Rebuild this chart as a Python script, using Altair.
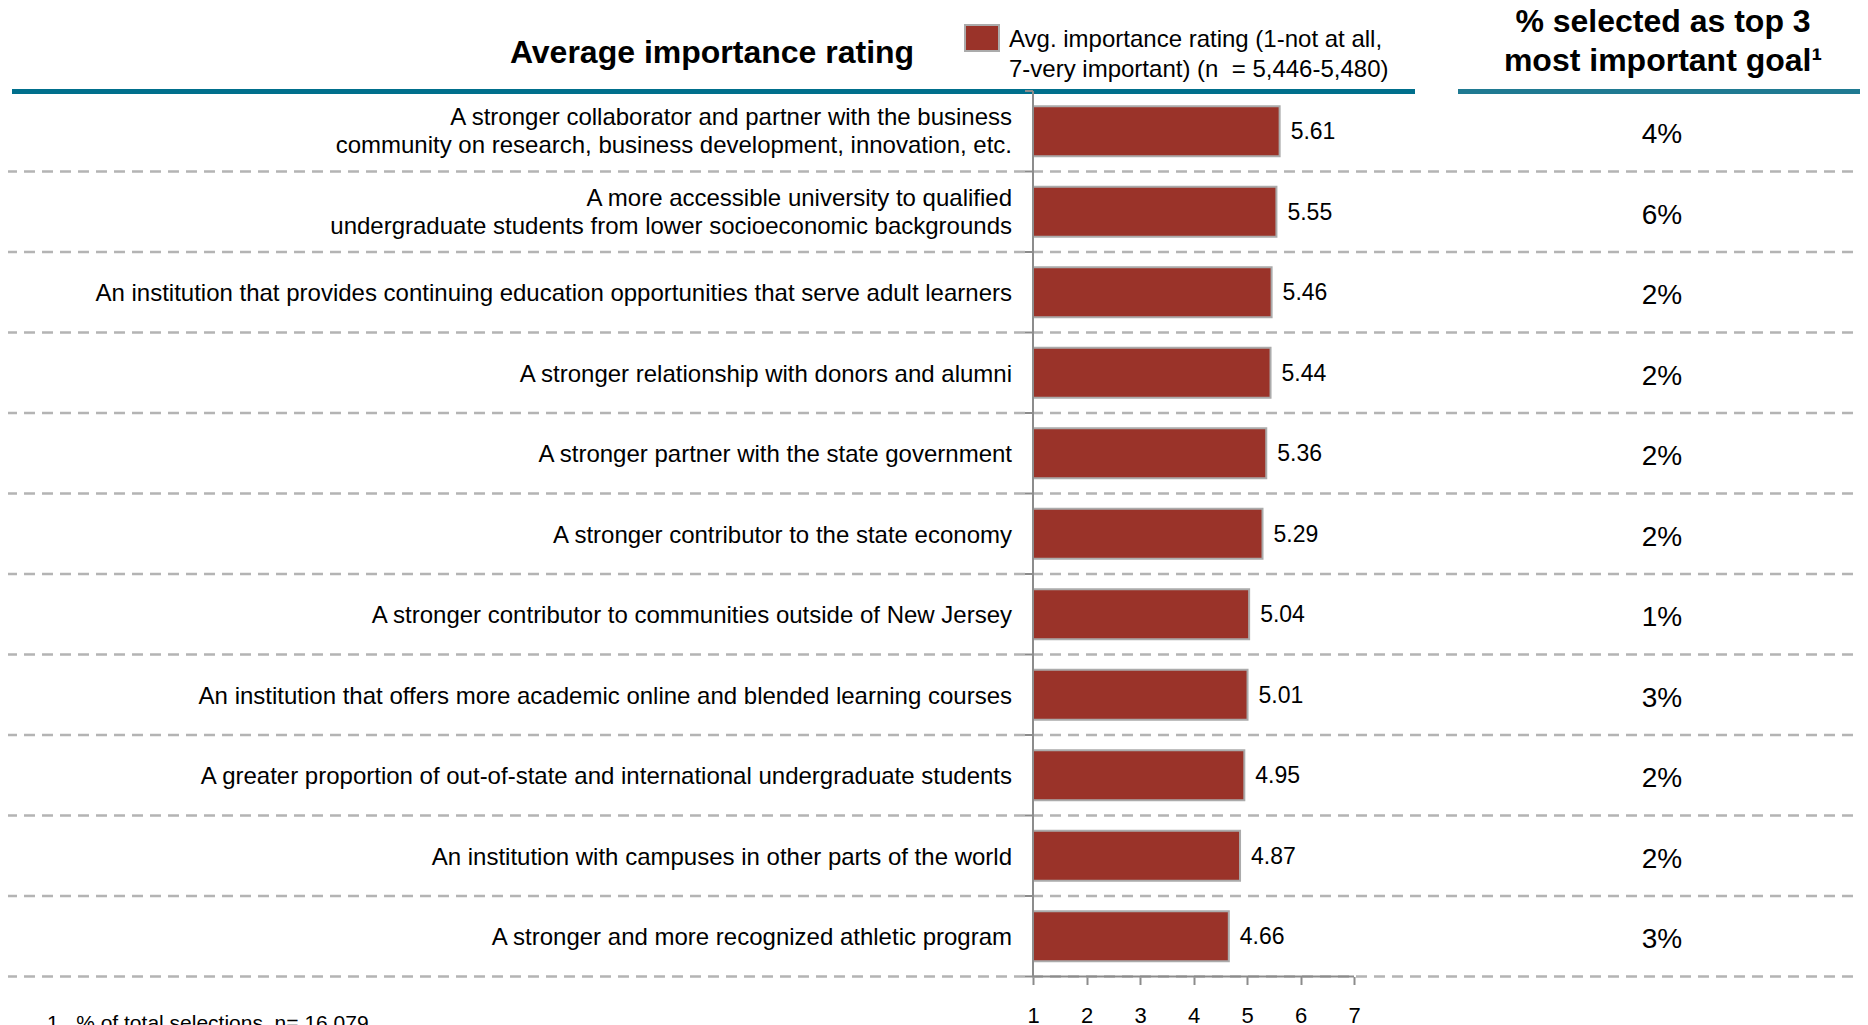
import altair as alt
import pandas as pd

# ---------------- data ----------------
labels = [
    "A stronger collaborator and partner with the business\ncommunity on research, business development, innovation, etc.",
    "A more accessible university to qualified\nundergraduate students from lower socioeconomic backgrounds",
    "An institution that provides continuing education opportunities that serve adult learners",
    "A stronger relationship with donors and alumni",
    "A stronger partner with the state government",
    "A stronger contributor to the state economy",
    "A stronger contributor to communities outside of New Jersey",
    "An institution that offers more academic online and blended learning courses",
    "A greater proportion of out-of-state and international undergraduate students",
    "An institution with campuses in other parts of the world",
    "A stronger and more recognized athletic program",
]
ratings = [5.61, 5.55, 5.46, 5.44, 5.36, 5.29, 5.04, 5.01, 4.95, 4.87, 4.66]
pct_top3 = ["4%", "6%", "2%", "2%", "2%", "2%", "1%", "3%", "2%", "2%", "3%"]
axis_ticks = [1, 2, 3, 4, 5, 6, 7]
axis_min, axis_max = 1, 7

title_left = "Average importance rating"
title_right = ["% selected as top 3", "most important goal\u00b9"]
legend_lines = ["Avg. importance rating (1-not at all,", "7-very important) (n\u00a0\u00a0= 5,446-5,480)"]
footnote = "1.\u00a0\u00a0% of total selections, n= 16,079"

# ---------------- layout ----------------
W, H = 1852, 1017
FONT = "Liberation Sans, Arial, sans-serif"
BAR = "#9a3329"
TEAL = "#006f8c"
GRID = "#b4b4b4"
AX = "#8c8c8c"

unit = 53.5          # px per rating unit
x1 = 1025            # px position of rating 1
row_h = 80.5
row0 = 123.25        # px centre of the first row

xs = alt.Scale(domain=[1 - x1 / unit, 1 + (W - x1) / unit], nice=False, zero=False)
ys = alt.Scale(domain=[-row0 / row_h, (H - row0) / row_h], nice=False, zero=False, reverse=True)

xaxis = alt.Axis(values=axis_ticks, title=None, domain=False, grid=False,
                 orient="bottom", offset=-(H - (row0 + row_h * 10.5)),
                 tickSize=8, tickColor=AX, tickWidth=2,
                 labelFont=FONT, labelFontSize=22, labelColor="#000000",
                 labelPadding=21, labelFlush=False)

x_enc = alt.X("rating:Q", scale=xs, axis=xaxis)
y_enc = alt.Y("row:Q", scale=ys, axis=None)

n = len(labels)
df = pd.DataFrame({
    "row": list(range(n)),
    "label": labels,
    "rating": ratings,
    "pct": pct_top3,
})
df["base"] = axis_min

bounds = pd.DataFrame({"row": [i + 0.5 for i in range(-1, n)], "rating": axis_min})
dashed = bounds[bounds["row"] > 0]

# separators
sep = alt.Chart(dashed).mark_rule(color=GRID, strokeWidth=2.5, strokeDash=[11, 7]).encode(
    y=y_enc, x=alt.value(-2), x2=alt.value(W)
)

# header teal rules
teal_left = alt.Chart(df.head(1)).mark_rule(color=TEAL, strokeWidth=5).encode(
    x=alt.value(4), x2=alt.value(1407), y=alt.value(83.5)
)
teal_right = alt.Chart(df.head(1)).mark_rule(color="#1f7a92", strokeWidth=5).encode(
    x=alt.value(1450), x2=alt.value(W), y=alt.value(83.5)
)

# bars
bars = alt.Chart(df).transform_calculate(
    y0="datum.row - 0.31", y1="datum.row + 0.31"
).mark_bar(color=BAR, stroke="#ababab", strokeWidth=2).encode(
    x=x_enc, x2="base:Q",
    y=alt.Y("y0:Q", scale=ys, axis=None), y2="y1:Q",
)

values = alt.Chart(df).mark_text(align="left", baseline="middle", dx=11, dy=1,
                                  font=FONT, fontSize=23, color="#000000").encode(
    x=x_enc, y=y_enc, text=alt.Text("rating:Q", format=".2f")
)

lab_base = alt.Chart(df).transform_calculate(
    nl="length(split(datum.label, '\\n'))"
)
row_labels_1 = lab_base.transform_filter("datum.nl == 1").mark_text(
    align="right", baseline="middle", dy=2, font=FONT, fontSize=24, color="#000000"
).encode(x=alt.value(1004), y=y_enc, text="label:N")
row_labels_2 = lab_base.transform_filter("datum.nl > 1").mark_text(
    align="right", baseline="middle", lineBreak="\n", lineHeight=28, dy=-13,
    font=FONT, fontSize=24, color="#000000"
).encode(x=alt.value(1004), y=y_enc, text="label:N")

pct = alt.Chart(df).mark_text(align="center", baseline="middle", dy=4, font=FONT,
                              fontSize=28, color="#000000").encode(
    x=alt.value(1654), y=y_enc, text="pct:N"
)

# vertical axis line and its ticks
vaxis = alt.Chart(df.head(1)).mark_rule(color=AX, strokeWidth=2).encode(
    x=alt.X("base:Q", scale=xs, axis=xaxis),
    y=alt.value(row0 - row_h * 0.5), y2=alt.value(row0 + row_h * 10.5)
)
vticks = alt.Chart(bounds).mark_rule(color=AX, strokeWidth=2).encode(
    x=alt.value(x1 - 8), x2=alt.value(x1), y=y_enc
)
# horizontal axis domain line from 1 to 7
hdom = alt.Chart(pd.DataFrame({"rating": [axis_min], "rating2": [axis_max]})).mark_rule(
    color=AX, strokeWidth=2).encode(
    x=x_enc, x2="rating2:Q", y=alt.value(row0 + row_h * 10.5)
)

# titles
t_left = alt.Chart(pd.DataFrame({"t": [title_left]})).mark_text(
    align="center", baseline="alphabetic", font=FONT, fontSize=32, fontWeight="bold",
    color="#000000").encode(x=alt.value(704), y=alt.value(55), text="t:N")

t_right = alt.Chart(pd.DataFrame({"t": title_right, "k": [0, 1]})).mark_text(
    align="center", baseline="alphabetic", font=FONT, fontSize=32, fontWeight="bold",
    color="#000000").encode(
    x=alt.value(1655),
    y=alt.Y("k:Q", scale=alt.Scale(domain=[0, 1], range=[24, 63]), axis=None),
    text="t:N")

# legend
leg_box = alt.Chart(df.head(1)).mark_rect(color=BAR, stroke="#ababab", strokeWidth=2).encode(
    x=alt.value(957), x2=alt.value(991), y=alt.value(17), y2=alt.value(43)
)
leg_text = alt.Chart(pd.DataFrame({"t": legend_lines, "k": [0, 1]})).mark_text(
    align="left", baseline="alphabetic", font=FONT, fontSize=24, color="#000000").encode(
    x=alt.value(1001),
    y=alt.Y("k:Q", scale=alt.Scale(domain=[0, 1], range=[39, 69]), axis=None),
    text="t:N")

foot = alt.Chart(pd.DataFrame({"t": [footnote]})).mark_text(
    align="left", baseline="alphabetic", font=FONT, fontSize=21, color="#000000").encode(
    x=alt.value(39), y=alt.value(1022), text="t:N")

chart = alt.layer(
    sep, teal_left, teal_right, bars, values, row_labels_1, row_labels_2, pct,
    vaxis, vticks, hdom, t_left, leg_box, foot
).properties(width=W, height=H)

titles = alt.layer(t_right, leg_text).resolve_scale(y="independent")

final = alt.layer(chart, titles).resolve_scale(y="independent").properties(
    padding=0, autosize=alt.AutoSizeParams(type="none"), background="white"
).configure_view(stroke=None)

final.save("out.html", embed_options={"renderer": "svg", "actions": False})
